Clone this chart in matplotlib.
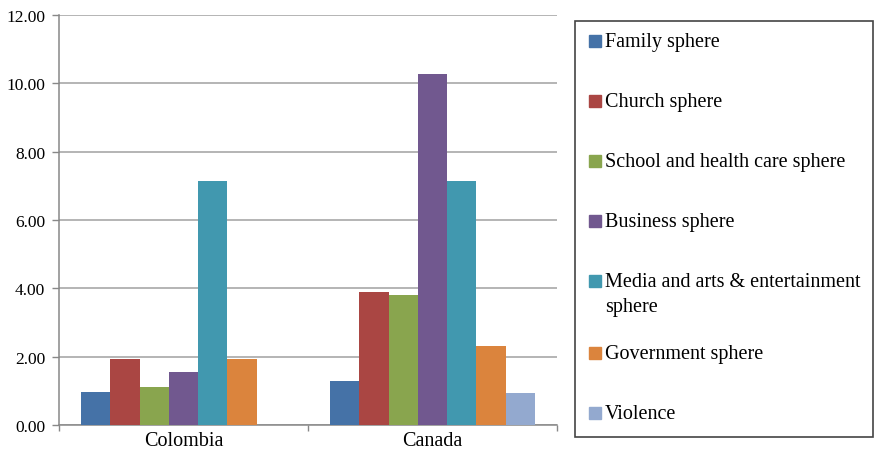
import numpy as np
import matplotlib
matplotlib.use("Agg")
import matplotlib.pyplot as plt
from matplotlib.patches import Rectangle

plt.rcParams['font.family'] = ['Liberation Serif', 'DejaVu Serif']

countries = ['Colombia', 'Canada']
series = ['Family sphere', 'Church sphere', 'School and health care sphere',
          'Business sphere', 'Media and arts & entertainment\nsphere',
          'Government sphere', 'Violence']
colors = ['#4572A7', '#AA4643', '#89A54E', '#71588F', '#4198AF', '#DB843D', '#93A9CF']

family = [0.96, 1.29]
church = [1.92, 3.89]
school = [1.12, 3.81]
business = [1.56, 10.27]
media = [7.13, 7.13]
government = [1.92, 2.32]
violence = [0.0, 0.94]
values = [family, church, school, business, media, government, violence]

fig = plt.figure(figsize=(8.75, 4.52), dpi=100)
ax = fig.add_axes([59/875, 1-426/452, (557-59)/875, (426-16)/452])

x = np.arange(len(countries))
w = 1/8.5
for i, vals in enumerate(values):
    ax.bar(x + (i-3)*w, vals, width=w, color=colors[i], zorder=3)

ax.set_xlim(-0.5, 1.5)
ax.set_ylim(0, 12)
ax.set_yticks(np.arange(0, 12.01, 2))
ax.set_yticklabels(['%.2f' % v for v in np.arange(0, 12.01, 2)], fontsize=12.5)
ax.yaxis.grid(True, color='#A0A0A0', linewidth=1.1, zorder=0)
ax.set_xticks(x)
ax.set_xticklabels(countries, fontsize=14.5)
ax.set_xticks([-0.5, 0.5, 1.5], minor=True)
ax.tick_params(axis='x', which='major', length=0, pad=4)
ax.tick_params(axis='x', which='minor', length=4.5, color='#888888', width=1)
ax.tick_params(axis='y', length=5, color='#888888', width=1, pad=5)
for s in ['top', 'right']:
    ax.spines[s].set_visible(False)
for s in ['left', 'bottom']:
    ax.spines[s].set_color('#888888')
    ax.spines[s].set_linewidth(1.1)

# legend box drawn by hand
fig.patches.append(Rectangle((575/875, 1-438/452), 298/875, 416/452,
                             transform=fig.transFigure, fill=False,
                             edgecolor='#444444', linewidth=1.2))
ypix = 42
for i, lab in enumerate(series):
    fig.patches.append(Rectangle((589/875, 1-(ypix+6)/452), 12/875, 12/452,
                                 transform=fig.transFigure, color=colors[i]))
    lines = lab.split('\n')
    for j, line in enumerate(lines):
        fig.text(605/875, 1-(ypix+5+j*25)/452, line, fontsize=14.5,
                 va='baseline', ha='left')
    ypix += 60 + (12 if len(lines) > 1 else 0)

fig.savefig('out.png', dpi=100)
